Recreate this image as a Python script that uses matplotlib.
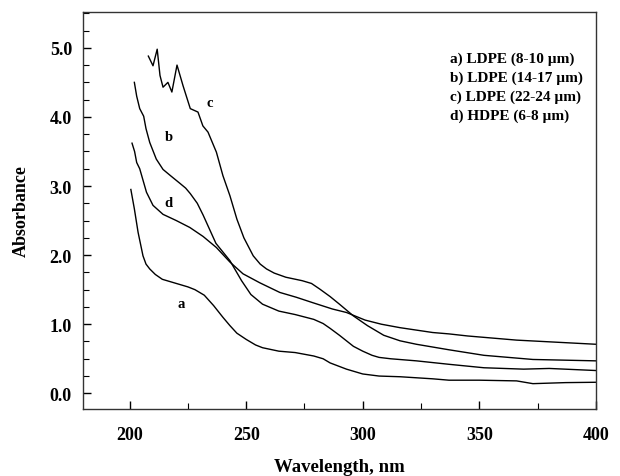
import matplotlib
matplotlib.use("Agg")
import matplotlib.pyplot as plt
from matplotlib.ticker import MultipleLocator, FormatStrFormatter

plt.rcParams["font.family"] = ["Liberation Serif", "DejaVu Serif"]
plt.rcParams["font.weight"] = "bold"

# curve a: LDPE 8-10 um
wl_a = [200.5, 202, 203.6, 205.7, 207, 208.6, 211, 214, 218, 221, 225, 228, 232, 236, 240,
        243, 246, 250, 254, 257, 264, 271, 279, 283, 286, 293, 300, 307, 316, 330, 337,
        350, 366, 373, 387, 400]
abs_a = [2.95, 2.67, 2.33, 1.99, 1.87, 1.80, 1.72, 1.65, 1.61, 1.58, 1.54, 1.50, 1.42,
         1.27, 1.10, 0.98, 0.87, 0.78, 0.70, 0.66, 0.61, 0.59, 0.54, 0.50, 0.44, 0.35,
         0.28, 0.25, 0.24, 0.21, 0.19, 0.19, 0.18, 0.14, 0.155, 0.16]

# curve b: LDPE 14-17 um
wl_b = [202, 203, 204.3, 206, 207, 208.6, 211.4, 214.3, 217.5, 221.5, 224, 226, 229,
        231.5, 237, 243, 248, 252, 257, 264, 271, 279, 283, 286, 290, 293, 296, 300,
        304, 307, 312, 323, 337, 352, 369, 380, 400]
abs_b = [4.50, 4.30, 4.12, 4.01, 3.83, 3.63, 3.39, 3.24, 3.15, 3.04, 2.97, 2.89, 2.75,
         2.58, 2.17, 1.92, 1.63, 1.43, 1.29, 1.19, 1.14, 1.07, 1.01, 0.94, 0.84, 0.76,
         0.68, 0.61, 0.55, 0.52, 0.50, 0.47, 0.42, 0.37, 0.35, 0.36, 0.33]

# curve c: LDPE 22-24 um
wl_c = [208, 210, 211.8, 213, 214.3, 216.4, 218.1, 220.3, 222.9, 226, 229.3, 231.4, 233.6,
        237.2, 240, 243, 246, 249, 253, 256, 258.7, 262, 267, 274, 278, 281.5, 286, 290,
        296, 302, 309, 316, 323, 337, 352, 373, 400]
abs_c = [4.88, 4.74, 4.98, 4.60, 4.43, 4.50, 4.36, 4.75, 4.45, 4.12, 4.07, 3.87, 3.78,
         3.49, 3.15, 2.86, 2.52, 2.25, 1.99, 1.87, 1.80, 1.74, 1.68, 1.63, 1.59, 1.51,
         1.40, 1.29, 1.12, 0.98, 0.84, 0.76, 0.71, 0.63, 0.55, 0.49, 0.47]

# curve d: HDPE 6-8 um
wl_d = [201, 202.1, 203, 204.3, 207.2, 210, 214.3, 220, 225.8, 231.5, 237.2, 243, 248.6,
        255.8, 264.4, 271.5, 278.7, 287, 293, 301, 308, 316, 330, 337, 345, 366, 400]
abs_d = [3.62, 3.50, 3.34, 3.25, 2.91, 2.72, 2.59, 2.50, 2.40, 2.27, 2.11, 1.90, 1.73,
         1.60, 1.46, 1.39, 1.31, 1.22, 1.17, 1.06, 1.00, 0.95, 0.88, 0.86, 0.83, 0.77, 0.71]

curve_tags = ["a", "b", "c", "d"]
tag_x = [222, 217, 234.5, 216.5]
tag_y = [1.30, 3.72, 4.21, 2.76]

legend_labels = ["a) LDPE (8-10 µm)", "b) LDPE (14-17 µm)",
                 "c) LDPE (22-24 µm)", "d) HDPE (6-8 µm)"]

fig = plt.figure(figsize=(6.2, 4.77), dpi=100)
ax = fig.add_axes([0.134, 0.140, 0.827, 0.833])

for wl, ab in [(wl_a, abs_a), (wl_b, abs_b), (wl_c, abs_c), (wl_d, abs_d)]:
    ax.plot(wl, ab, color="black", linewidth=1.0)

for t, x, y in zip(curve_tags, tag_x, tag_y):
    ax.text(x, y, t, fontsize=10.5, fontweight="bold", ha="center", va="center")

for i, lab in enumerate(legend_labels):
    ax.text(0.715, 0.884 - i * 0.048, lab, transform=ax.transAxes,
            fontsize=11, fontweight="bold", ha="left", va="center")

ax.set_xlim(180, 400)
ax.set_ylim(-0.23, 5.52)
ax.xaxis.set_major_locator(MultipleLocator(50))
ax.xaxis.set_minor_locator(MultipleLocator(25))
ax.yaxis.set_major_locator(MultipleLocator(1.0))
ax.yaxis.set_minor_locator(MultipleLocator(0.25))
ax.yaxis.set_major_formatter(FormatStrFormatter("%.1f"))
ax.tick_params(which="both", direction="in", top=False, right=False, labelsize=13)
ax.tick_params(which="major", length=6, width=1.0)
ax.tick_params(which="minor", length=4, width=0.8)
ax.tick_params(axis="x", pad=12)
ax.tick_params(axis="y", pad=8)
for s in ax.spines.values():
    s.set_linewidth(1.0)
    s.set_color("#333333")

ax.set_xlabel("Wavelength, nm", fontsize=13.5, fontweight="bold", labelpad=11)
ax.set_ylabel("Absorbance", fontsize=13, fontweight="bold", labelpad=14)

fig.savefig("out.png", dpi=100)
